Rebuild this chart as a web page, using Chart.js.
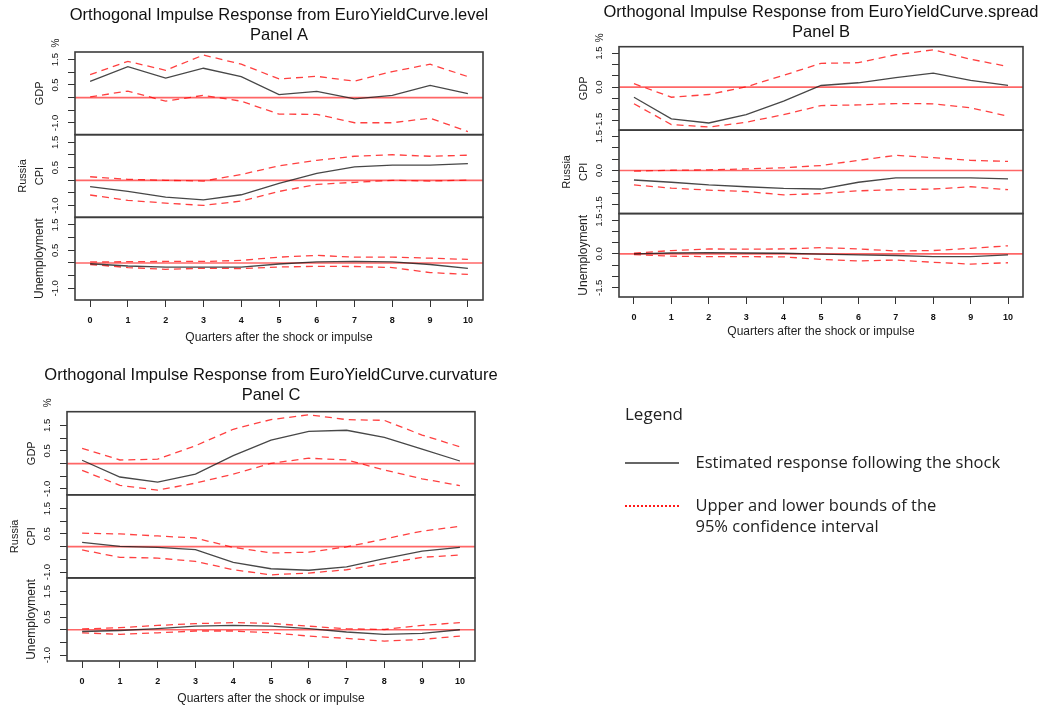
<!DOCTYPE html>
<html>
<head>
<meta charset="utf-8">
<script src="https://cdn.jsdelivr.net/npm/chart.js@4.4.1/dist/chart.umd.min.js"></script>
<style>
  html, body { margin: 0; padding: 0; background: #fff; overflow: hidden; }
  body { width: 1049px; height: 709px; position: relative; }
  canvas { position: absolute; }
</style>
</head>
<body>
<canvas id="panelA" width="532" height="348" style="left:13px;top:0px"></canvas>
<canvas id="panelB" width="528" height="342" style="left:557px;top:0px"></canvas>
<canvas id="panelC" width="532" height="349" style="left:5px;top:360px"></canvas>
<canvas id="legendBox" width="430" height="160" style="left:625px;top:400px"></canvas>
<script>
const quarters = [0, 1, 2, 3, 4, 5, 6, 7, 8, 9, 10];
const yTickValues = [-1.5, -1, -0.5, 0, 0.5, 1, 1.5];
const xTitle = 'Quarters after the shock or impulse';
const unitLabel = '%';
const countryName = 'Russia';
const varNames = ['GDP', 'CPI', 'Unemployment'];

// Panel A - shock to EuroYieldCurve.level
const titleA = ['Orthogonal Impulse Response from EuroYieldCurve.level', 'Panel A'];
const tickLabelsA = [1.5, 0.5, -1];
const levelGdp = [0.64, 1.22, 0.77, 1.16, 0.83, 0.12, 0.25, -0.05, 0.09, 0.48, 0.16];
const levelGdpUp = [0.91, 1.43, 1.08, 1.68, 1.32, 0.74, 0.84, 0.65, 1.03, 1.32, 0.83];
const levelGdpLow = [0.03, 0.26, -0.14, 0.09, -0.14, -0.65, -0.66, -0.99, -0.99, -0.81, -1.34];
const levelCpi = [-0.25, -0.44, -0.66, -0.77, -0.57, -0.12, 0.27, 0.53, 0.60, 0.60, 0.66];
const levelCpiUp = [0.14, 0.04, 0.00, -0.03, 0.23, 0.57, 0.79, 0.95, 1.01, 0.95, 0.99];
const levelCpiLow = [-0.58, -0.79, -0.90, -0.99, -0.82, -0.44, -0.16, -0.08, 0.00, -0.03, 0.01];
const levelUnemp = [-0.03, -0.12, -0.16, -0.16, -0.16, -0.04, 0.04, 0.06, 0.04, -0.06, -0.21];
const levelUnempUp = [0.04, 0.05, 0.06, 0.06, 0.10, 0.23, 0.30, 0.23, 0.23, 0.19, 0.14];
const levelUnempLow = [-0.06, -0.18, -0.25, -0.21, -0.22, -0.16, -0.13, -0.14, -0.18, -0.38, -0.45];

// Panel B - shock to EuroYieldCurve.spread
const titleB = ['Orthogonal Impulse Response from EuroYieldCurve.spread', 'Panel B'];
const tickLabelsB = [1.5, 0, -1.5];
const spreadGdp = [-0.45, -1.41, -1.59, -1.22, -0.62, 0.07, 0.19, 0.42, 0.62, 0.30, 0.07];
const spreadGdpUp = [0.15, -0.45, -0.33, 0.01, 0.52, 1.05, 1.08, 1.43, 1.65, 1.23, 0.91];
const spreadGdpLow = [-0.74, -1.66, -1.77, -1.56, -1.22, -0.82, -0.79, -0.73, -0.74, -0.92, -1.29];
const spreadCpi = [-0.42, -0.52, -0.64, -0.72, -0.79, -0.82, -0.52, -0.33, -0.33, -0.33, -0.37];
const spreadCpiUp = [-0.03, 0.01, 0.03, 0.07, 0.12, 0.22, 0.45, 0.67, 0.57, 0.45, 0.40];
const spreadCpiLow = [-0.64, -0.78, -0.87, -0.93, -1.08, -1.02, -0.90, -0.85, -0.82, -0.72, -0.85];
const spreadUnemp = [0.00, 0.04, 0.06, 0.04, 0.03, -0.01, -0.04, -0.07, -0.12, -0.12, -0.04];
const spreadUnempUp = [0.03, 0.15, 0.22, 0.21, 0.22, 0.28, 0.22, 0.13, 0.15, 0.25, 0.36];
const spreadUnempLow = [-0.03, -0.10, -0.12, -0.12, -0.13, -0.24, -0.31, -0.27, -0.37, -0.45, -0.39];

// Panel C - shock to EuroYieldCurve.curvature
const titleC = ['Orthogonal Impulse Response from EuroYieldCurve.curvature', 'Panel C'];
const tickLabelsC = [1.5, 0.5, -1];
const curvGdp = [0.13, -0.53, -0.73, -0.42, 0.31, 0.92, 1.27, 1.31, 1.03, 0.57, 0.10];
const curvGdpUp = [0.60, 0.14, 0.17, 0.70, 1.35, 1.73, 1.92, 1.73, 1.70, 1.12, 0.66];
const curvGdpLow = [-0.27, -0.86, -1.05, -0.77, -0.42, 0.01, 0.21, 0.14, -0.25, -0.60, -0.87];
const curvCpi = [0.17, 0.01, -0.03, -0.12, -0.62, -0.87, -0.93, -0.80, -0.47, -0.18, -0.03];
const curvCpiUp = [0.53, 0.50, 0.42, 0.34, -0.03, -0.25, -0.22, -0.01, 0.30, 0.61, 0.80];
const curvCpiLow = [-0.13, -0.42, -0.45, -0.58, -0.91, -1.11, -1.04, -0.91, -0.67, -0.42, -0.33];
const curvUnemp = [-0.07, -0.03, 0.04, 0.14, 0.17, 0.14, 0.04, -0.09, -0.18, -0.14, 0.00];
const curvUnempUp = [0.03, 0.08, 0.17, 0.24, 0.28, 0.25, 0.14, 0.04, 0.01, 0.17, 0.28];
const curvUnempLow = [-0.12, -0.18, -0.12, -0.05, -0.05, -0.12, -0.25, -0.34, -0.45, -0.38, -0.25];

// Legend
const legendTitle = 'Legend';
const legendLabels = [
  ['Estimated response following the shock'],
  ['Upper and lower bounds of the', '95% confidence interval']
];

const AXIS_W = 62;
const axisIds = ['yG', 'yC', 'yU'];
const irfColor = 'rgba(25,25,25,0.8)';
const bandColor = 'rgba(255,0,0,0.75)';

// zero line, boxes round each sub-plot and the unit label
const framePlugin = {
  id: 'irfFrames',
  beforeDatasetsDraw(chart) {
    const ctx = chart.ctx, a = chart.chartArea;
    ctx.save();
    ctx.strokeStyle = 'rgba(255,0,0,0.6)';
    ctx.lineWidth = 1.7;
    axisIds.forEach(id => {
      const y = chart.scales[id].getPixelForValue(0);
      ctx.beginPath();
      ctx.moveTo(a.left, y);
      ctx.lineTo(a.right, y);
      ctx.stroke();
    });
    ctx.restore();
  },
  afterDatasetsDraw(chart) {
    const ctx = chart.ctx, a = chart.chartArea;
    ctx.save();
    ctx.strokeStyle = '#3c3c3c';
    ctx.lineWidth = 1.6;
    axisIds.forEach(id => {
      const s = chart.scales[id];
      ctx.strokeRect(a.left, s.top, a.right - a.left, s.bottom - s.top);
    });
    ctx.translate(a.left - 19, chart.scales.yG.top - 9);
    ctx.rotate(-Math.PI / 2);
    ctx.font = '10px "Liberation Sans"';
    ctx.fillStyle = '#222';
    ctx.textAlign = 'center';
    ctx.textBaseline = 'middle';
    ctx.fillText(unitLabel, 0, 0);
    ctx.restore();
  }
};

function makePanel(id, titleLines, rows, labelled, lay) {
  const all = rows.flatMap(r => r.irf.concat(r.up, r.low));
  const lo = Math.min(...all), hi = Math.max(...all);
  const yPad = (hi - lo) * 0.04;
  const xPad = (quarters[quarters.length - 1] - quarters[0]) * 0.04;
  const pts = arr => quarters.map((q, k) => ({x: q, y: arr[k]}));

  const datasets = [];
  rows.forEach((r, i) => {
    datasets.push({data: pts(r.irf), yAxisID: axisIds[i], borderColor: irfColor, borderWidth: 1.3});
    datasets.push({data: pts(r.up), yAxisID: axisIds[i], borderColor: bandColor, borderWidth: 1.3, borderDash: [7, 5]});
    datasets.push({data: pts(r.low), yAxisID: axisIds[i], borderColor: bandColor, borderWidth: 1.3, borderDash: [7, 5]});
  });

  const scales = {
    x: {
      type: 'linear',
      min: quarters[0] - xPad,
      max: quarters[quarters.length - 1] + xPad,
      afterBuildTicks: s => { s.ticks = quarters.map(v => ({value: v})); },
      afterFit: s => { s.height = lay.xAxisH; },
      grid: {drawOnChartArea: false, drawTicks: true, tickLength: 7, color: '#333'},
      border: {display: false},
      ticks: {autoSkip: false, maxRotation: 0, padding: 8, color: '#111',
              font: {family: 'Liberation Sans', size: 9, weight: 'bold'}},
      title: {display: true, text: xTitle, color: '#222',
              font: {family: 'Liberation Sans', size: 12}, padding: {top: 0, bottom: 3}}
    },
    yPad: {
      position: 'right',
      afterFit: s => { s.width = AXIS_W; },
      ticks: {display: false},
      grid: {display: false},
      border: {display: false}
    }
  };

  axisIds.forEach((axId, i) => {
    const name = varNames[i];
    scales[axId] = {
      type: 'linear',
      position: 'left',
      stack: 'irf',
      stackWeight: 1,
      weight: 3 - i,
      min: lo - yPad,
      max: hi + yPad,
      afterBuildTicks: s => {
        s.ticks = yTickValues.filter(v => v >= s.min && v <= s.max).map(v => ({value: v}));
      },
      afterFit: s => { s.width = AXIS_W; },
      grid: {drawOnChartArea: false, drawTicks: true, tickLength: 7, color: '#333'},
      border: {display: false},
      ticks: {
        autoSkip: false, minRotation: 90, maxRotation: 90, crossAlign: 'center', padding: 4,
        color: '#111', font: {family: 'Liberation Sans', size: 9.5},
        callback: v => labelled.includes(v) ? v.toFixed(1) : ''
      },
      title: {
        display: true,
        text: i === 1 ? [countryName, name] : ['', name],
        color: '#222',
        font: {family: 'Liberation Sans', size: i === 2 ? 12 : 11, lineHeight: '17px'},
        padding: {top: 1, bottom: 0}
      }
    };
  });

  new Chart(document.getElementById(id), {
    type: 'line',
    data: {datasets},
    options: {
      responsive: false,
      animation: false,
      devicePixelRatio: 1,
      layout: {padding: 0},
      elements: {point: {radius: 0}, line: {tension: 0}},
      scales,
      plugins: {
        legend: {display: false},
        tooltip: {enabled: false},
        title: {
          display: true,
          text: titleLines,
          color: '#111',
          font: {family: 'Liberation Sans', size: 16.5, weight: 'normal', lineHeight: '19.8px'},
          padding: {top: lay.titleTop, bottom: lay.titleBottom}
        }
      }
    },
    plugins: [framePlugin]
  });
}

makePanel('panelA', titleA, [
  {irf: levelGdp, up: levelGdpUp, low: levelGdpLow},
  {irf: levelCpi, up: levelCpiUp, low: levelCpiLow},
  {irf: levelUnemp, up: levelUnempUp, low: levelUnempLow}
], tickLabelsA, {titleTop: 6, titleBottom: 6.4, xAxisH: 48});

makePanel('panelB', titleB, [
  {irf: spreadGdp, up: spreadGdpUp, low: spreadGdpLow},
  {irf: spreadCpi, up: spreadCpiUp, low: spreadCpiLow},
  {irf: spreadUnemp, up: spreadUnempUp, low: spreadUnempLow}
], tickLabelsB, {titleTop: 3, titleBottom: 4.1, xAxisH: 45});

makePanel('panelC', titleC, [
  {irf: curvGdp, up: curvGdpUp, low: curvGdpLow},
  {irf: curvCpi, up: curvCpiUp, low: curvCpiLow},
  {irf: curvUnemp, up: curvUnempUp, low: curvUnempLow}
], tickLabelsC, {titleTop: 6, titleBottom: 6.1, xAxisH: 48});

// legend drawn by Chart.js legend plugin on its own canvas
const legendStyles = [
  {strokeStyle: '#333', lineWidth: 1.3, lineDash: []},
  {strokeStyle: 'rgba(255,0,0,0.9)', lineWidth: 2, lineDash: [2, 2]}
];

new Chart(document.getElementById('legendBox'), {
  type: 'line',
  data: {datasets: []},
  options: {
    responsive: false,
    animation: false,
    devicePixelRatio: 1,
    layout: {padding: 0},
    scales: {x: {display: false}, y: {display: false}},
    plugins: {
      tooltip: {enabled: false},
      legend: {
        display: true,
        position: 'left',
        align: 'start',
        maxWidth: 430,
        title: {
          display: true, text: legendTitle, position: 'start', color: '#222',
          font: {family: 'Open Sans', size: 17}, padding: {top: 6.5, bottom: 27.85}
        },
        labels: {
          usePointStyle: true,
          pointStyleWidth: 54,
          padding: 0,
          color: '#222',
          font: {family: 'Open Sans', size: 16.5, lineHeight: '21.5px'},
          generateLabels: () => legendLabels.map((lines, i) => {
            const text = lines.map(t => '\u2002' + t);
            if (text.length < 2) text.push('');
            return Object.assign({
              text, fillStyle: 'rgba(0,0,0,0)', pointStyle: 'line', hidden: false, datasetIndex: i
            }, legendStyles[i]);
          })
        }
      }
    }
  }
});
</script>
</body>
</html>
